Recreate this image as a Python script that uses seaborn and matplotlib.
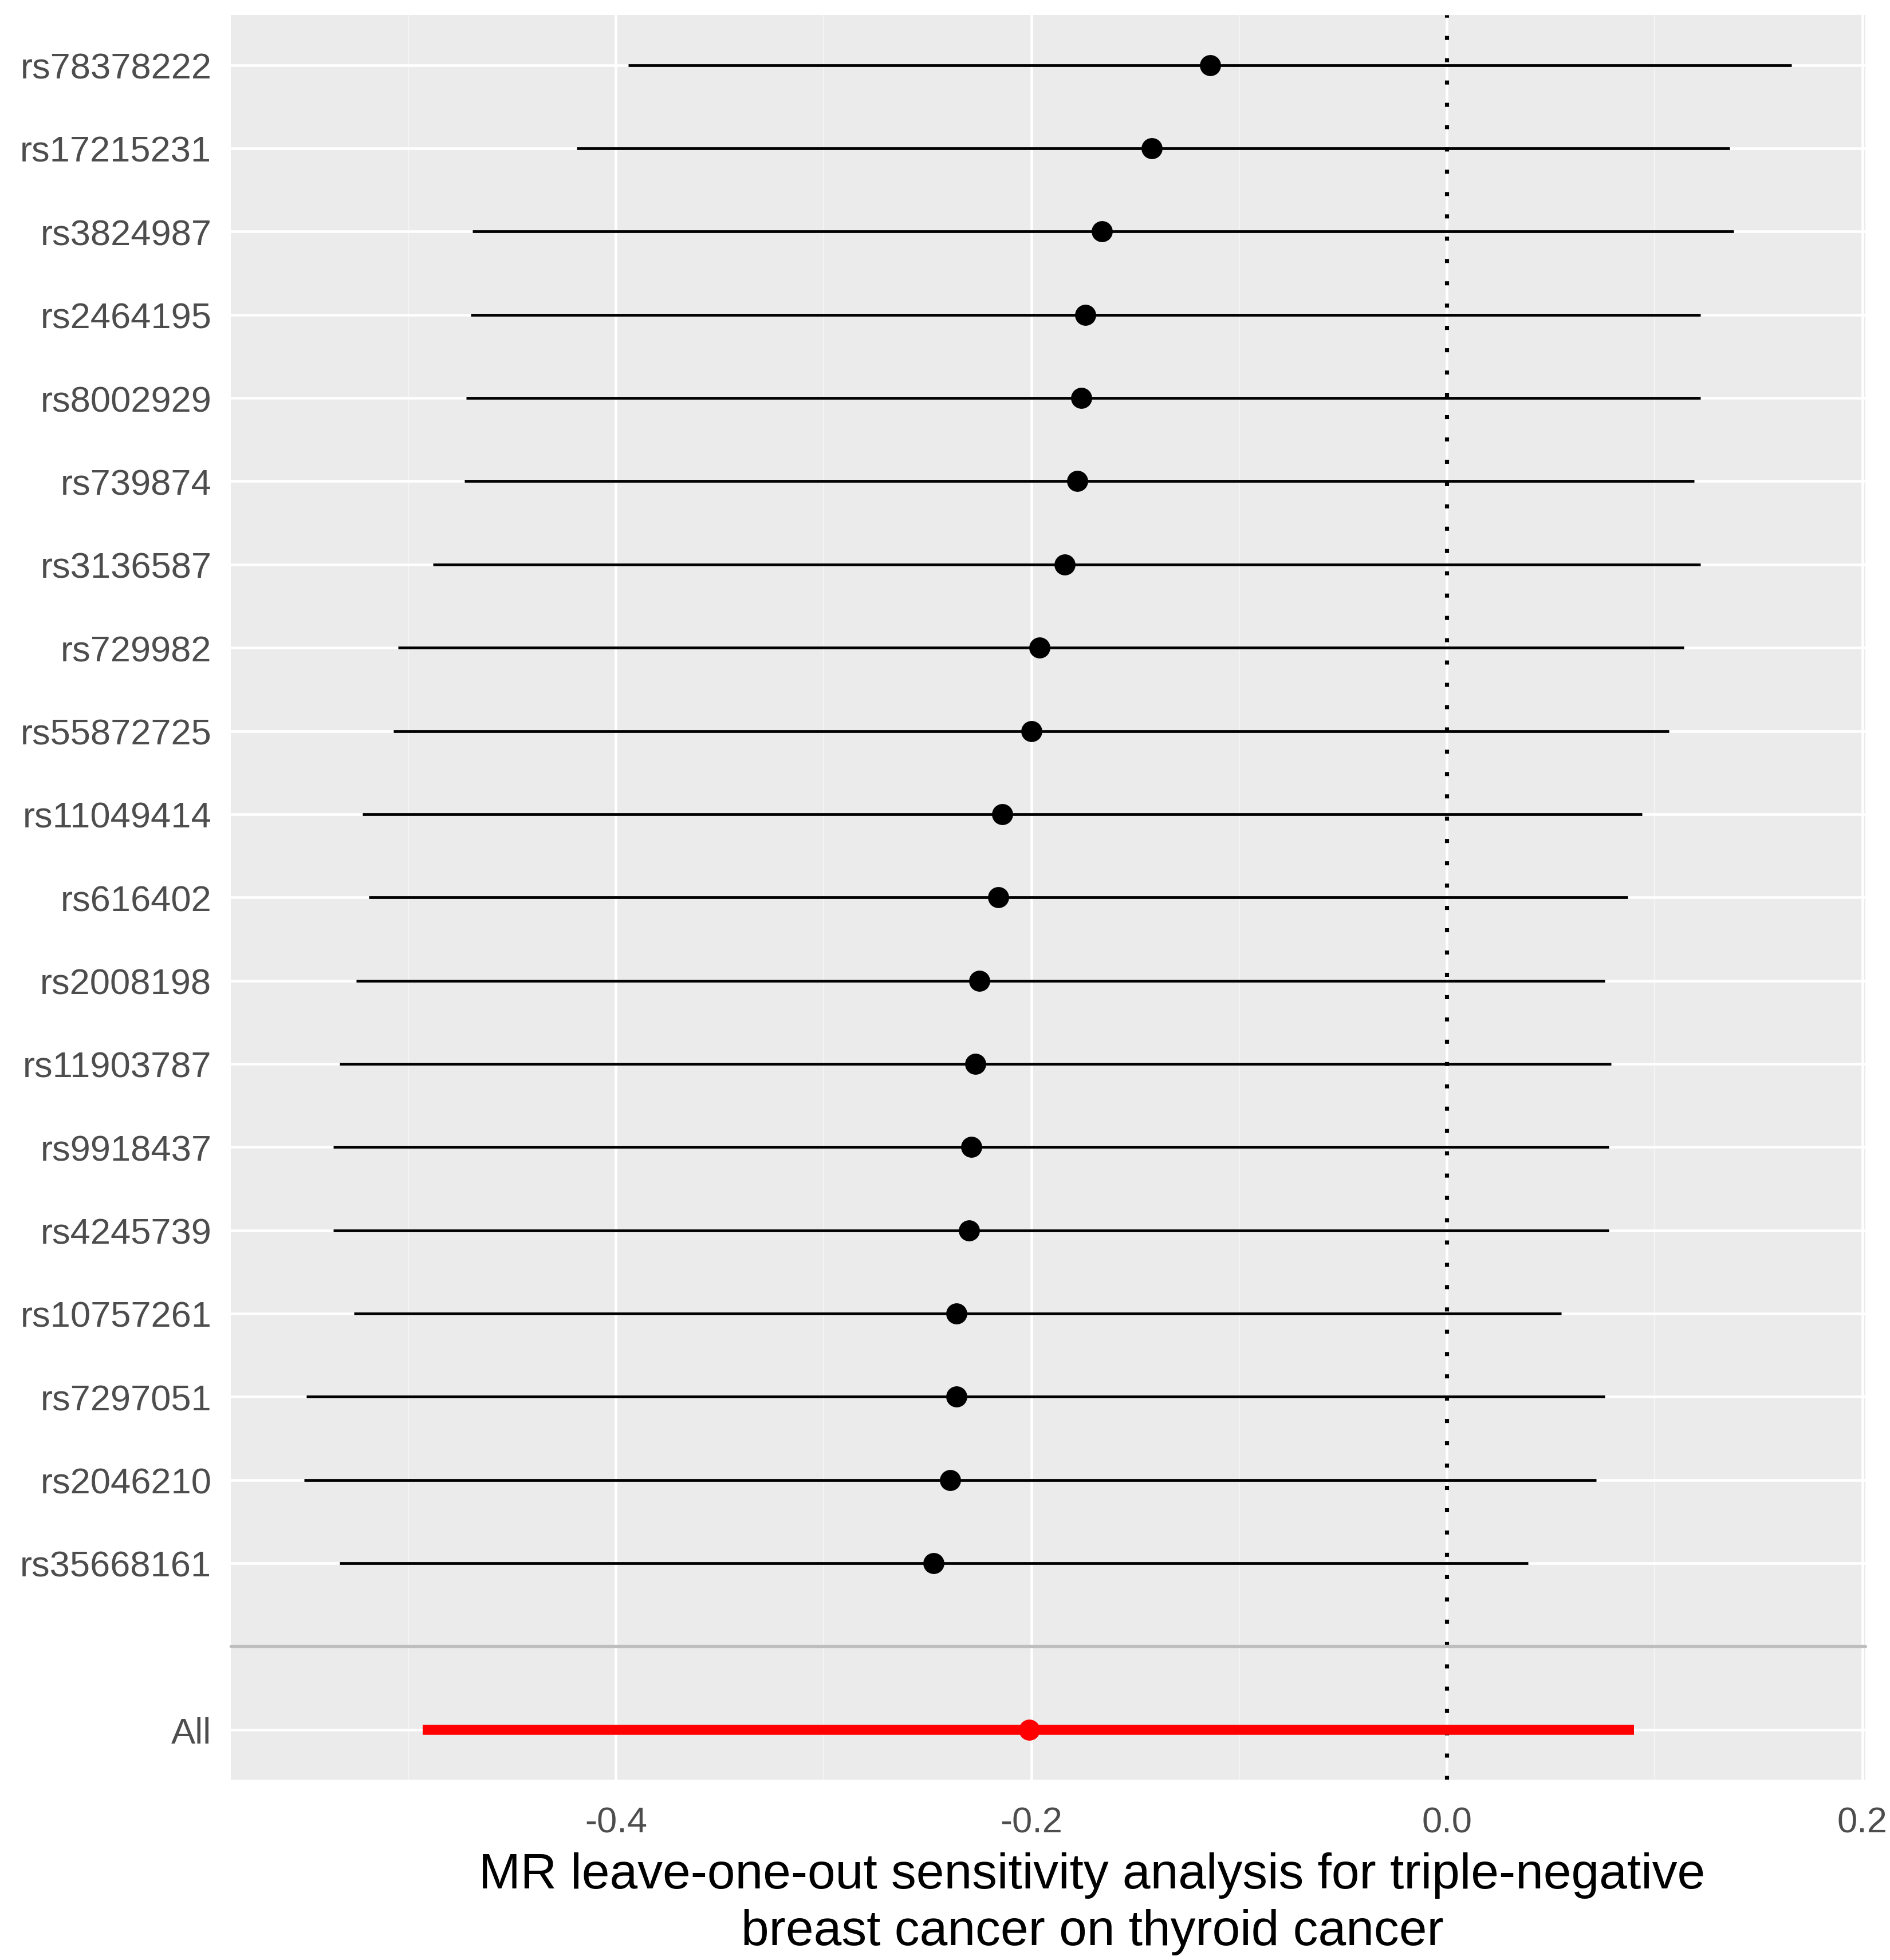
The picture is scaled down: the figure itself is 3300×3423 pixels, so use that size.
import numpy as np
import pandas as pd
import seaborn as sns
import matplotlib.pyplot as plt
from matplotlib.ticker import MultipleLocator

snps = ['rs78378222', 'rs17215231', 'rs3824987', 'rs2464195', 'rs8002929',
        'rs739874', 'rs3136587', 'rs729982', 'rs55872725', 'rs11049414',
        'rs616402', 'rs2008198', 'rs11903787', 'rs9918437', 'rs4245739',
        'rs10757261', 'rs7297051', 'rs2046210', 'rs35668161']
b = [-0.114, -0.142, -0.166, -0.174, -0.176, -0.178, -0.184, -0.196, -0.200, -0.214,
     -0.216, -0.225, -0.227, -0.229, -0.230, -0.236, -0.236, -0.239, -0.247]
lo = [-0.394, -0.419, -0.469, -0.470, -0.472, -0.473, -0.488, -0.505, -0.507, -0.522,
      -0.519, -0.525, -0.533, -0.536, -0.536, -0.526, -0.549, -0.550, -0.533]
hi = [0.166, 0.136, 0.138, 0.122, 0.122, 0.119, 0.122, 0.114, 0.107, 0.094,
      0.087, 0.076, 0.079, 0.078, 0.078, 0.055, 0.076, 0.072, 0.039]

all_b, all_lo, all_hi = -0.201, -0.493, 0.090

# factor levels bottom-up like ggplot: All, blank spacer, then SNPs
levels = ['All', ''] + snps[::-1]
ypos = {lab: i + 1 for i, lab in enumerate(levels)}

df = pd.DataFrame({'SNP': snps, 'b': b, 'lo': lo, 'hi': hi})
df['y'] = df['SNP'].map(ypos)
df_all = pd.DataFrame({'SNP': ['All'], 'b': [all_b], 'lo': [all_lo], 'hi': [all_hi]})
df_all['y'] = df_all['SNP'].map(ypos)

sns.set_theme(style="darkgrid", rc={
    'axes.facecolor': '#EBEBEB',
    'grid.color': 'white',
    'axes.edgecolor': '#EBEBEB',
})
plt.rcParams['font.family'] = ['Liberation Sans', 'DejaVu Sans']

fig = plt.figure(figsize=(11, 11.413), dpi=300)
ax = fig.add_axes([0.122, 0.092, 0.865, 0.9])

ax.set_xlim(-0.5855, 0.2015)
ax.set_ylim(0.4, len(levels) + 0.6)
ax.xaxis.set_major_locator(MultipleLocator(0.2))
ax.xaxis.set_minor_locator(MultipleLocator(0.1))
ax.set_yticks(list(ypos.values()))
ax.set_yticklabels(list(ypos.keys()))
ax.grid(True, which='major', color='white', linewidth=1.1)
ax.grid(True, which='minor', axis='x', color='#F3F3F3', linewidth=0.55)
ax.set_axisbelow(True)
for s in ax.spines.values():
    s.set_visible(False)

ax.axvline(0, color='black', linestyle=(0, (1, 4.5)), linewidth=1.7, zorder=2)
ax.axhline(ypos[''], color='#BEBEBE', linewidth=1.3, zorder=2, clip_on=False)

ax.hlines(df['y'], df['lo'], df['hi'], color='black', linewidth=1.15, zorder=3)
ax.hlines(df_all['y'], df_all['lo'], df_all['hi'], color='red', linewidth=4.2, zorder=3)
sns.scatterplot(data=df, x='b', y='y', color='black', s=78, linewidth=0, ax=ax, zorder=4)
sns.scatterplot(data=df_all, x='b', y='y', color='red', s=78, linewidth=0, ax=ax, zorder=4)

ax.tick_params(axis='both', which='major', length=5, width=1.1, color='#333333',
               labelsize=15.2, labelcolor='#4D4D4D', pad=3)
ax.tick_params(axis='x', which='major', pad=6)
ax.tick_params(axis='both', which='minor', length=0)
ax.set_xticklabels(['{:.1f}'.format(t) for t in ax.get_xticks()])

ax.set_ylabel('')
ax.set_xlabel('MR leave-one-out sensitivity analysis for triple-negative\nbreast cancer on thyroid cancer',
              fontsize=21, color='black', labelpad=5, linespacing=1.3)
ax.xaxis.label.set_x(0.527)

fig.savefig('out.png', dpi=300)
